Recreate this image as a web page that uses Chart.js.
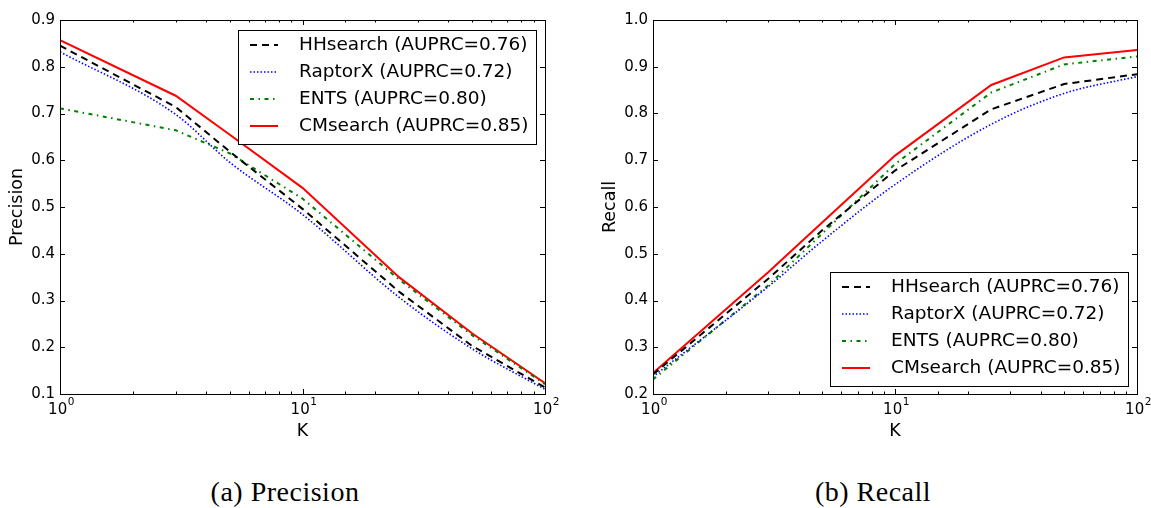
<!DOCTYPE html>
<html>
<head>
<meta charset="utf-8">
<script src="https://cdn.jsdelivr.net/npm/chart.js@4"></script>
<style>
  body { margin: 0; background: #fff; width: 1151px; height: 508px; position: relative; overflow: hidden; }
  .panel { position: absolute; top: 0; }
  .caption {
    position: absolute; top: 476px; transform: translateX(-50%);
    font-family: "Liberation Serif", serif; font-size: 28px; letter-spacing: 0.5px;
    color: #000; white-space: nowrap;
  }
</style>
</head>
<body>
<div class="panel" style="left:0;width:575px;height:460px"><canvas id="precChart" width="575" height="460"></canvas></div>
<div class="panel" style="left:575px;width:576px;height:460px"><canvas id="recChart" width="576" height="460"></canvas></div>
<div class="caption" style="left:285px">(a) Precision</div>
<div class="caption" style="left:873px">(b) Recall</div>
<script>
// K values shared by every curve
const kValues = [1, 3, 5, 10, 25, 50, 100];
const methods = ['HHsearch', 'RaptorX', 'ENTS', 'CMsearch'];
const auprc = ['0.76', '0.72', '0.80', '0.85'];

// precision at K
const precHHsearch = [0.845, 0.714, 0.619, 0.496, 0.319, 0.203, 0.114];
const precRaptorX  = [0.832, 0.698, 0.596, 0.484, 0.307, 0.197, 0.110];
const precENTS     = [0.711, 0.664, 0.615, 0.518, 0.345, 0.226, 0.121];
const precCMsearch = [0.857, 0.738, 0.655, 0.541, 0.350, 0.230, 0.123];

// recall at K
const recHHsearch = [0.242, 0.447, 0.550, 0.678, 0.809, 0.863, 0.884];
const recRaptorX  = [0.237, 0.430, 0.527, 0.648, 0.777, 0.843, 0.879];
const recENTS     = [0.231, 0.433, 0.543, 0.692, 0.845, 0.905, 0.922];
const recCMsearch = [0.245, 0.461, 0.567, 0.710, 0.861, 0.920, 0.936];

const lineStyles = [
  { borderColor: '#000000', borderWidth: 2, borderDash: [7, 5] },
  { borderColor: '#0000ff', borderWidth: 1.6, borderDash: [1.5, 2], cubicInterpolationMode: 'monotone' },
  { borderColor: '#008000', borderWidth: 2, borderDash: [4, 4.5, 1.5, 4.5] },
  { borderColor: '#ff0000', borderWidth: 2, borderDash: [] }
];

Chart.defaults.font.family = '"DejaVu Sans"';
Chart.defaults.color = '#000';

function isDecade(v) {
  const e = Math.round(Math.log10(v));
  return Math.abs(v - Math.pow(10, e)) < 1e-9 ? e : null;
}

// inward ticks on all four sides, 10^n labels, the frame, and the boxed legend
const frameAndLegend = {
  id: 'frameAndLegend',
  afterDatasetsDraw(chart, args, opts) {
    const { ctx, chartArea: a } = chart;
    const x = chart.scales.x, y = chart.scales.y;
    ctx.save();
    ctx.strokeStyle = '#000';
    ctx.lineWidth = 1;
    ctx.beginPath();
    x.ticks.forEach(t => {
      const px = Math.round(x.getPixelForValue(t.value)) + 0.5;
      const len = isDecade(t.value) !== null ? 5 : 2.5;
      ctx.moveTo(px, a.bottom); ctx.lineTo(px, a.bottom - len);
      ctx.moveTo(px, a.top); ctx.lineTo(px, a.top + len);
    });
    y.ticks.forEach(t => {
      const py = Math.round(y.getPixelForValue(t.value)) + 0.5;
      ctx.moveTo(a.left, py); ctx.lineTo(a.left + 5, py);
      ctx.moveTo(a.right, py); ctx.lineTo(a.right - 5, py);
    });
    ctx.stroke();
    ctx.strokeRect(Math.round(a.left) + 0.5, Math.round(a.top) + 0.5,
                   Math.round(a.right - a.left), Math.round(a.bottom - a.top));

    // x tick labels as 10 with a raised exponent
    ctx.fillStyle = '#000';
    ctx.textAlign = 'left';
    ctx.textBaseline = 'alphabetic';
    x.ticks.forEach(t => {
      const e = isDecade(t.value);
      if (e === null) return;
      const px = x.getPixelForValue(t.value);
      ctx.font = '15px "DejaVu Sans"';
      const w1 = ctx.measureText('10').width;
      ctx.font = '10.5px "DejaVu Sans"';
      const w2 = ctx.measureText(String(e)).width;
      const x0 = px - (w1 + w2) / 2 + 1;
      ctx.font = '15px "DejaVu Sans"';
      ctx.fillText('10', x0, a.bottom + 19.5);
      ctx.font = '10.5px "DejaVu Sans"';
      ctx.fillText(String(e), x0 + w1 + 0.5, a.bottom + 10.5);
    });

    const boxW = 298, boxH = 114;
    const bx = Math.round(a.right - 9.5 - boxW);
    const by = Math.round(opts.corner === 'top' ? a.top + 10 : a.bottom - 8.5 - boxH);
    ctx.fillStyle = '#fff';
    ctx.fillRect(bx, by, boxW, boxH);
    ctx.strokeRect(bx + 0.5, by + 0.5, boxW, boxH);
    ctx.font = '18.5px "DejaVu Sans"';
    ctx.textBaseline = 'middle';
    ctx.textAlign = 'left';
    chart.data.datasets.forEach((ds, i) => {
      const ry = by + 15 + 27 * i;
      ctx.save();
      ctx.strokeStyle = ds.borderColor;
      ctx.lineWidth = ds.borderWidth;
      ctx.setLineDash(ds.borderDash || []);
      ctx.beginPath();
      ctx.moveTo(bx + 12, ry);
      ctx.lineTo(bx + 40, ry);
      ctx.stroke();
      ctx.restore();
      ctx.fillStyle = '#000';
      ctx.fillText(ds.label, bx + 61, ry);
    });
    ctx.restore();
  }
};

function makeChart(id, series, yMin, yMax, yTitle, axisWidth, padRight, titlePad, corner) {
  const datasets = series.map((vals, i) => Object.assign({
    label: `${methods[i]} (AUPRC=${auprc[i]})`,
    data: kValues.map((k, j) => ({ x: k, y: vals[j] })),
    pointRadius: 0,
    fill: false,
    tension: 0
  }, lineStyles[i]));

  return new Chart(document.getElementById(id), {
    type: 'line',
    data: { datasets },
    plugins: [frameAndLegend],
    options: {
      responsive: false,
      animation: false,
      devicePixelRatio: 1,
      layout: { padding: { top: 20, right: padRight, bottom: 0, left: 0 } },
      plugins: {
        legend: { display: false },
        tooltip: { enabled: false },
        frameAndLegend: { corner }
      },
      scales: {
        x: {
          type: 'logarithmic',
          min: 1,
          max: 100,
          grid: { display: false, drawTicks: false },
          border: { display: false },
          ticks: { display: false, autoSkip: false },
          title: { display: true, text: 'K', font: { size: 17.5 }, padding: { top: 0, bottom: 18.5 } },
          afterFit: (s) => { s.height = 66; }
        },
        y: {
          min: yMin,
          max: yMax,
          grid: { display: false, drawTicks: false },
          border: { display: false },
          ticks: {
            stepSize: 0.1,
            padding: 5,
            font: { size: 15 },
            callback: (v) => v.toFixed(1)
          },
          title: { display: true, text: yTitle, font: { size: 17.5 }, padding: { top: titlePad, bottom: 0 } },
          afterFit: (s) => { s.width = axisWidth; }
        }
      }
    }
  });
}

makeChart('precChart', [precHHsearch, precRaptorX, precENTS, precCMsearch],
          0.1, 0.9, 'Precision', 60, 30, 6.5, 'top');
makeChart('recChart', [recHHsearch, recRaptorX, recENTS, recCMsearch],
          0.2, 1.0, 'Recall', 78, 14, 24.5, 'bottom');
</script>
</body>
</html>
